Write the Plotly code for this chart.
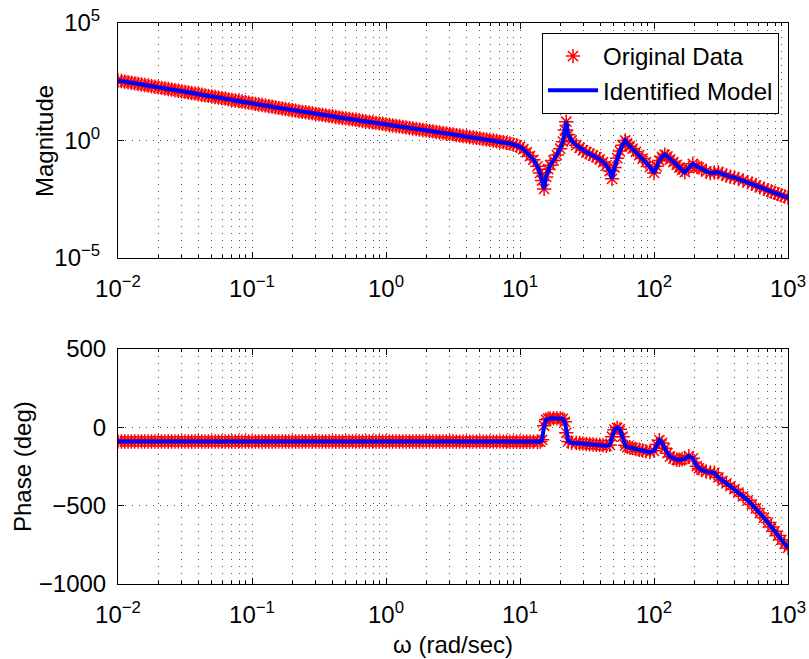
import numpy as np
import plotly.graph_objects as go

# ---------------- data ----------------
# log10 of frequency (rad/sec)
log_omega = [
    -2.000, -1.975, -1.950, -1.925, -1.900, -1.875, -1.850, -1.825, -1.800, -1.775,
    -1.750, -1.725, -1.700, -1.675, -1.650, -1.625, -1.600, -1.575, -1.550, -1.525,
    -1.500, -1.475, -1.450, -1.425, -1.400, -1.375, -1.350, -1.325, -1.300, -1.275,
    -1.250, -1.225, -1.200, -1.175, -1.150, -1.125, -1.100, -1.075, -1.050, -1.025,
    -1.000, -0.975, -0.950, -0.925, -0.900, -0.875, -0.850, -0.825, -0.800, -0.775,
    -0.750, -0.725, -0.700, -0.675, -0.650, -0.625, -0.600, -0.575, -0.550, -0.525,
    -0.500, -0.475, -0.450, -0.425, -0.400, -0.375, -0.350, -0.325, -0.300, -0.275,
    -0.250, -0.225, -0.200, -0.175, -0.150, -0.125, -0.100, -0.075, -0.050, -0.025,
    0.000, 0.025, 0.050, 0.075, 0.100, 0.125, 0.150, 0.175, 0.200, 0.225,
    0.250, 0.275, 0.300, 0.325, 0.350, 0.375, 0.400, 0.425, 0.450, 0.475,
    0.500, 0.525, 0.550, 0.575, 0.600, 0.625, 0.650, 0.675, 0.700, 0.725,
    0.750, 0.775, 0.800, 0.825, 0.850, 0.875, 0.900, 0.925, 0.950, 0.975,
    1.000, 1.025, 1.050, 1.075,
    1.10, 1.13, 1.15, 1.165, 1.18, 1.195, 1.21, 1.225, 1.25, 1.275,
    1.30, 1.32, 1.335, 1.345, 1.36, 1.385, 1.42, 1.445, 1.47, 1.495,
    1.52, 1.545, 1.57, 1.595, 1.62, 1.645, 1.67, 1.687, 1.705, 1.725,
    1.745, 1.765, 1.785, 1.80, 1.82, 1.84, 1.865, 1.89, 1.915, 1.94,
    1.97, 2.00, 2.02, 2.04, 2.06, 2.08, 2.10, 2.12, 2.145, 2.17,
    2.19, 2.21, 2.23, 2.26, 2.29, 2.32, 2.335, 2.355, 2.39, 2.42,
    2.45, 2.48, 2.51, 2.54, 2.57, 2.60, 2.63, 2.665, 2.70, 2.73,
    2.76, 2.79, 2.82, 2.85, 2.875, 2.90, 2.925, 2.95, 2.975, 3.00,
]

# log10 of magnitude
log_magnitude = [
    2.55, 2.53, 2.50, 2.48, 2.46, 2.43, 2.41, 2.38, 2.36, 2.34,
    2.31, 2.29, 2.26, 2.24, 2.21, 2.19, 2.17, 2.14, 2.12, 2.09,
    2.07, 2.04, 2.02, 2.00, 1.97, 1.95, 1.92, 1.90, 1.87, 1.85,
    1.83, 1.80, 1.78, 1.75, 1.73, 1.70, 1.68, 1.66, 1.63, 1.61,
    1.58, 1.56, 1.53, 1.51, 1.49, 1.46, 1.44, 1.41, 1.39, 1.36,
    1.34, 1.32, 1.29, 1.27, 1.24, 1.22, 1.20, 1.18, 1.16, 1.13,
    1.11, 1.09, 1.07, 1.05, 1.03, 1.00, 0.98, 0.96, 0.94, 0.92,
    0.90, 0.88, 0.86, 0.83, 0.81, 0.79, 0.77, 0.75, 0.73, 0.71,
    0.68, 0.66, 0.64, 0.62, 0.60, 0.58, 0.56, 0.53, 0.51, 0.49,
    0.47, 0.45, 0.43, 0.41, 0.39, 0.36, 0.34, 0.32, 0.30, 0.28,
    0.26, 0.23, 0.21, 0.19, 0.17, 0.15, 0.13, 0.11, 0.09, 0.06,
    0.04, 0.02, 0.00, -0.02, -0.05, -0.07, -0.10, -0.13, -0.17, -0.21,
    -0.27, -0.37, -0.50, -0.66,
    -0.82, -1.10, -1.38, -1.70, -2.06, -1.55, -1.22, -1.05, -0.85, -0.62,
    -0.35, -0.05, 0.45, 0.80, 0.25, 0.00, -0.20, -0.31, -0.42, -0.50,
    -0.57, -0.64, -0.71, -0.80, -0.92, -1.06, -1.30, -1.63, -1.15, -0.75,
    -0.45, -0.20, 0.00, -0.12, -0.24, -0.35, -0.48, -0.62, -0.77, -0.92,
    -1.12, -1.38, -1.10, -0.85, -0.70, -0.60, -0.68, -0.80, -0.92, -1.04,
    -1.15, -1.25, -1.35, -1.18, -0.99, -1.10, -1.15, -1.21, -1.32, -1.39,
    -1.36, -1.35, -1.42, -1.49, -1.54, -1.58, -1.64, -1.70, -1.77, -1.84,
    -1.91, -1.99, -2.05, -2.12, -2.17, -2.23, -2.28, -2.33, -2.38, -2.43,
]

# phase (deg)
phase_deg = [
    -90, -90, -90, -90, -90, -90, -90, -90, -90, -90,
    -90, -90, -90, -90, -90, -90, -90, -90, -90, -90,
    -90, -90, -90, -90, -90, -90, -90, -90, -90, -90,
    -90, -90, -90, -90, -90, -90, -90, -90, -90, -90,
    -90, -90, -90, -90, -90, -90, -90, -90, -90, -90,
    -90, -90, -90, -90, -90, -90, -90, -90, -90, -90,
    -90, -90, -90, -90, -90, -90, -90, -90, -90, -90,
    -90, -90, -90, -90, -90, -90, -90, -90, -90, -90,
    -90, -90, -90, -90, -90, -90, -90, -90, -90, -90,
    -90, -90, -90, -90, -90, -90, -90, -90, -90, -90,
    -90, -91, -91, -91, -91, -91, -91, -91, -91, -91,
    -91, -91, -91, -91, -91, -91, -92, -92, -92, -92,
    -92, -92, -92, -92,
    -92, -92, -91, -80, 10, 48, 55, 57, 58, 58,
    57, 54, 35, -35, -90, -98, -100, -102, -104, -106,
    -108, -110, -111, -113, -115, -118, -112, -60, -15, -3,
    -12, -60, -115, -126, -130, -133, -138, -143, -148, -153,
    -158, -150, -110, -82, -100, -134, -165, -187, -198, -207,
    -207, -204, -200, -184, -198, -248, -262, -272, -283, -288,
    -290, -320, -342, -358, -376, -395, -416, -440, -466, -492,
    -518, -547, -577, -608, -636, -664, -691, -718, -744, -770,
]

x_tick_vals = [1e-2, 1e-1, 1e0, 1e1, 1e2, 1e3]
x_tick_text = ["10<sup>\u22122</sup>", "10<sup>\u22121</sup>", "10<sup>0</sup>",
               "10<sup>1</sup>", "10<sup>2</sup>", "10<sup>3</sup>"]
mag_tick_vals = [1e-5, 1e0, 1e5]
mag_tick_text = ["10<sup>\u22125</sup>", "10<sup>0</sup>", "10<sup>5</sup>"]
phase_tick_vals = [-1000, -500, 0, 500]

# ---------------- figure ----------------
omega = 10 ** np.array(log_omega)
magnitude = 10 ** np.array(log_magnitude)
phase = np.array(phase_deg)

W, H = 809, 659
x_dom = [118 / W, 788 / W]
top_dom = [1 - 258 / H, 1 - 23 / H]
bot_dom = [1 - 584 / H, 1 - 349 / H]

FONT = "Liberation Sans, Arial, Helvetica, sans-serif"
FS = 24
GRID_COLOR = "#505050"
GRID_DASH = "1px,6px"

marker_style = dict(symbol="asterisk-open", size=12, color="#ff0000",
                    line=dict(color="#ff0000", width=1.5))
line_style = dict(color="#0000ff", width=4)

fig = go.Figure()
fig.add_trace(go.Scatter(x=omega, y=magnitude, mode="markers", marker=marker_style,
                         name="Original Data", xaxis="x", yaxis="y"))
fig.add_trace(go.Scatter(x=omega, y=magnitude, mode="lines", line=line_style,
                         name="Identified Model", xaxis="x", yaxis="y"))
fig.add_trace(go.Scatter(x=omega, y=phase, mode="markers", marker=marker_style,
                         name="Original Data", showlegend=False, xaxis="x2", yaxis="y2"))
fig.add_trace(go.Scatter(x=omega, y=phase, mode="lines", line=line_style,
                         name="Identified Model", showlegend=False, xaxis="x2", yaxis="y2"))

minor_x = [m * 10.0 ** e for e in range(-2, 3) for m in range(2, 10)]

def xaxis_cfg(anchor):
    return dict(
        type="log", range=[-2, 3], domain=x_dom, anchor=anchor, automargin=False,
        tickmode="array", tickvals=x_tick_vals, ticktext=x_tick_text,
        ticks="inside", ticklen=6, tickcolor="black", tickwidth=1,
        showline=True, linecolor="black", linewidth=1, mirror="allticks",
        showgrid=True, gridcolor=GRID_COLOR, griddash=GRID_DASH, gridwidth=1,
        minor=dict(tickmode="array", tickvals=minor_x, ticks="inside", ticklen=3,
                   tickcolor="black", showgrid=True, gridcolor=GRID_COLOR,
                   griddash=GRID_DASH, gridwidth=1),
        zeroline=False, ticklabelstandoff=9,
        tickfont=dict(family=FONT, size=FS, color="black"),
    )

fig.update_layout(
    width=W, height=H,
    margin=dict(l=0, r=0, t=0, b=0),
    paper_bgcolor="white", plot_bgcolor="white",
    font=dict(family=FONT, size=FS, color="black"),
    xaxis=xaxis_cfg("y"),
    xaxis2=xaxis_cfg("y2"),
    yaxis=dict(
        type="log", range=[-5, 5], domain=top_dom, anchor="x", automargin=False,
        tickmode="array", tickvals=mag_tick_vals, ticktext=mag_tick_text,
        ticks="inside", ticklen=6, tickcolor="black",
        showline=True, linecolor="black", linewidth=1, mirror="allticks",
        showgrid=True, gridcolor=GRID_COLOR, griddash=GRID_DASH, gridwidth=1,
        zeroline=False, ticklabelstandoff=12,
        tickfont=dict(family=FONT, size=FS, color="black"),
    ),
    yaxis2=dict(
        range=[-1000, 500], domain=bot_dom, anchor="x2", automargin=False,
        tickmode="array", tickvals=phase_tick_vals,
        ticks="inside", ticklen=6, tickcolor="black",
        showline=True, linecolor="black", linewidth=1, mirror="allticks",
        showgrid=True, gridcolor=GRID_COLOR, griddash=GRID_DASH, gridwidth=1,
        zeroline=False, ticklabelstandoff=6,
        tickfont=dict(family=FONT, size=FS, color="black"),
    ),
    legend=dict(
        x=779 / W, xanchor="right", y=1 - 33 / H, yanchor="top",
        bgcolor="white", bordercolor="black", borderwidth=1,
        font=dict(family=FONT, size=FS, color="black"),
        itemwidth=50, tracegroupgap=0,
    ),
    annotations=[
        dict(text="Magnitude", xref="paper", yref="paper", x=44 / W, y=1 - 141 / H,
             xanchor="center", yanchor="middle", textangle=-90, showarrow=False,
             font=dict(family=FONT, size=FS, color="black")),
        dict(text="Phase (deg)", xref="paper", yref="paper", x=22 / W, y=1 - 467 / H,
             xanchor="center", yanchor="middle", textangle=-90, showarrow=False,
             font=dict(family=FONT, size=FS, color="black")),
        dict(text="\u03c9 (rad/sec)", xref="paper", yref="paper", x=453 / W, y=1 - 644 / H,
             xanchor="center", yanchor="middle", showarrow=False,
             font=dict(family=FONT, size=FS, color="black")),
    ],
)

fig.write_html("out.html")
